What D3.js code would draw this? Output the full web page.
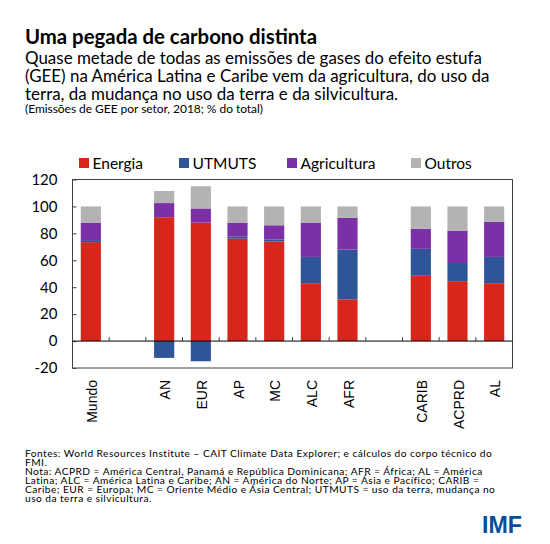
<!DOCTYPE html>
<html>
<head>
<meta charset="utf-8">
<script src="https://cdn.jsdelivr.net/npm/d3@7"></script>
<style>
  html, body { margin: 0; padding: 0; background: #fff; }
  svg { display: block; }
</style>
</head>
<body>
<svg id="chart" width="550" height="544"></svg>
<script>
// chart data (% of total GHG emissions, 2018)
const categories = ["Mundo", "", "AN", "EUR", "AP", "MC", "ALC", "AFR", "", "CARIB", "ACPRD", "AL"];
const energia = [73.5, 0, 92, 88, 76, 74, 43, 31, 0, 48.5, 44.5, 43];
const utmuts = [1.5, 0, -12.5, -15, 1.5, 1.5, 19.5, 37, 0, 20, 13.5, 19.5];
const agricultura = [13, 0, 10.5, 10.5, 10.5, 10.5, 25.5, 23.5, 0, 15, 24, 26];
const outros = [12, 0, 9, 16.5, 12, 14, 12, 8.5, 0, 16.5, 18, 11.5];
const seriesNames = ["Energia", "UTMUTS", "Agricultura", "Outros"];
const yTicks = [-20, 0, 20, 40, 60, 80, 100, 120];

const colours = {
    Energia: '#d9261c',
    UTMUTS: '#2e5597',
    Agricultura: '#7b30a8',
    Outros: '#b3b3b3'
};

const svg = d3.select('#chart');
const plot = {left: 72.5, right: 512.5, top: 179.5, bottom: 368};
const textFont = 'Lato, "Open Sans", sans-serif';

// helper: scale a text's font size so it spans a target width
function fitWidth(sel, target) {
    const size = parseFloat(sel.attr('font-size'));
    const w = sel.node().getComputedTextLength();
    if (w > 0) sel.attr('font-size', (size * target / w).toFixed(2) + 'px');
    return sel;
}

// helper: keep the font size, stretch letter spacing to a target width
function spreadWidth(sel, target) {
    const w = sel.node().getComputedTextLength();
    const n = sel.text().length;
    if (w > 0 && n > 1) sel.attr('letter-spacing', ((target - w) / (n - 1)).toFixed(3) + 'px');
    return sel;
}

// ---- titles
fitWidth(svg.append('text')
    .attr('x', 25).attr('y', 44)
    .attr('font-family', textFont).attr('font-weight', 'bold')
    .attr('font-size', '19px').attr('fill', '#000')
    .text('Uma pegada de carbono distinta'), 292);

const subLines = [
    'Quase metade de todas as emissões de gases do efeito estufa',
    '(GEE) na América Latina e Caribe vem da agricultura, do uso da',
    'terra, da mudança no uso da terra e da silvicultura.'
];
const sub0 = svg.append('text')
    .attr('x', 25).attr('y', 64)
    .attr('font-family', textFont).attr('font-size', '17px').attr('fill', '#000')
    .text(subLines[0]);
fitWidth(sub0, 457);
subLines.slice(1).forEach((t, i) => {
    svg.append('text')
        .attr('x', 25).attr('y', 82 + i * 18)
        .attr('font-family', textFont).attr('font-size', sub0.attr('font-size')).attr('fill', '#000')
        .text(t);
});

spreadWidth(svg.append('text')
    .attr('x', 25).attr('y', 112.5)
    .attr('font-family', textFont).attr('font-size', '12px').attr('fill', '#000')
    .text('(Emissões de GEE por setor, 2018; % do total)'), 238);

// ---- scales
const idx = d3.range(categories.length);
const x = d3.scaleBand()
    .domain(idx)
    .range([plot.left, plot.right])
    .paddingInner(0.45)
    .paddingOuter(0.225);

const y = d3.scaleLinear()
    .domain([-20, 120])
    .range([plot.bottom, plot.top]);

const rows = idx.map(i => ({
    Energia: energia[i],
    UTMUTS: utmuts[i],
    Agricultura: agricultura[i],
    Outros: outros[i]
}));

const stacked = d3.stack()
    .keys(seriesNames)
    .offset(d3.stackOffsetDiverging)(rows);

// ---- bars
const barsG = svg.append('g');
stacked.forEach(layer => {
    barsG.append('g')
        .attr('fill', colours[layer.key])
        .selectAll('rect')
        .data(layer.map((d, i) => ({d, i})))
        .join('rect')
        .attr('x', o => x(o.i))
        .attr('width', x.bandwidth())
        .attr('y', o => y(Math.max(o.d[0], o.d[1])))
        .attr('height', o => Math.abs(y(o.d[0]) - y(o.d[1])));
});

// ---- frame
svg.append('rect')
    .attr('x', plot.left).attr('y', plot.top)
    .attr('width', plot.right - plot.left)
    .attr('height', plot.bottom - plot.top)
    .attr('fill', 'none')
    .attr('stroke', '#404040')
    .attr('stroke-width', 1);

// ---- y axis (ticks pointing inward)
const yAxis = svg.append('g')
    .attr('transform', `translate(${plot.left},0)`)
    .call(d3.axisLeft(y).tickValues(yTicks).tickSize(-4).tickPadding(15).tickFormat(d3.format('d')));
yAxis.select('.domain').remove();
yAxis.selectAll('.tick line').attr('stroke', '#404040');
yAxis.selectAll('.tick text')
    .attr('font-family', textFont)
    .attr('font-size', '15px')
    .attr('fill', '#000')
    .text(d => d < 0 ? '-' + Math.abs(d) : d);

// ---- zero line with category boundary ticks
const zeroY = y(0);
svg.append('line')
    .attr('x1', plot.left).attr('x2', plot.right)
    .attr('y1', zeroY).attr('y2', zeroY)
    .attr('stroke', '#000').attr('stroke-width', 1);

const step = x.step();
const bounds = idx.slice(1).map(i => x(i) - step * x.paddingInner() / 2);
svg.append('g')
    .selectAll('line')
    .data(bounds)
    .join('line')
    .attr('x1', d => d).attr('x2', d => d)
    .attr('y1', zeroY).attr('y2', zeroY - 4)
    .attr('stroke', '#404040');

// ---- category labels (rotated)
svg.append('g')
    .selectAll('text')
    .data(idx.filter(i => categories[i] !== ''))
    .join('text')
    .attr('transform', i => `translate(${x(i) + x.bandwidth() / 2 + 1},${plot.bottom + 12}) rotate(-90)`)
    .attr('text-anchor', 'end')
    .attr('dominant-baseline', 'central')
    .attr('font-family', '"Liberation Sans", Arial, sans-serif')
    .attr('font-size', '14px')
    .attr('fill', '#000')
    .text(i => categories[i]);

// ---- legend
const legendX = [79, 179, 287, 411];
const legend = svg.append('g')
    .selectAll('g')
    .data(seriesNames)
    .join('g')
    .attr('transform', (d, i) => `translate(${legendX[i]},163)`);
legend.append('rect')
    .attr('x', 0).attr('y', -5)
    .attr('width', 10).attr('height', 10)
    .attr('fill', d => colours[d]);
legend.append('text')
    .attr('x', 13.5)
    .attr('dominant-baseline', 'central')
    .attr('font-family', textFont)
    .attr('font-size', '15.5px')
    .attr('fill', '#000')
    .text(d => d);

// ---- footer notes: one paragraph, one line per tspan
const noteLines = [
    'Fontes: World Resources Institute – CAIT Climate Data Explorer; e cálculos do corpo técnico do',
    'FMI.',
    'Nota: ACPRD = América Central, Panamá e República Dominicana; AFR = África; AL = América',
    'Latina; ALC = América Latina e Caribe; AN = América do Norte; AP = Ásia e Pacífico; CARIB =',
    'Caribe; EUR = Europa; MC = Oriente Médio e Ásia Central; UTMUTS = uso da terra, mudança no',
    'uso da terra e silvicultura.'
];
// measure the first line to get the letter spacing
const probe = svg.append('text')
    .attr('font-family', textFont).attr('font-size', '10.2px')
    .text(noteLines[0]);
const noteSpacing = ((467 - probe.node().getComputedTextLength()) / (noteLines[0].length - 1)).toFixed(3);
probe.remove();

const note = svg.append('text')
    .attr('x', 25).attr('y', 456.5)
    .attr('font-family', textFont).attr('font-size', '10.2px')
    .attr('letter-spacing', noteSpacing + 'px')
    .attr('fill', '#000');
noteLines.forEach((t, i) => {
    note.append('tspan')
        .attr('x', 25)
        .attr('dy', i === 0 ? 0 : 9.1)
        .text(t);
});

// ---- IMF mark
fitWidth(svg.append('text')
    .attr('x', 482).attr('y', 533)
    .attr('font-family', '"Liberation Sans", Arial, sans-serif')
    .attr('font-weight', 'bold')
    .attr('font-size', '22px')
    .attr('fill', '#0b4d9a')
    .text('IMF'), 40);
</script>
</body>
</html>
